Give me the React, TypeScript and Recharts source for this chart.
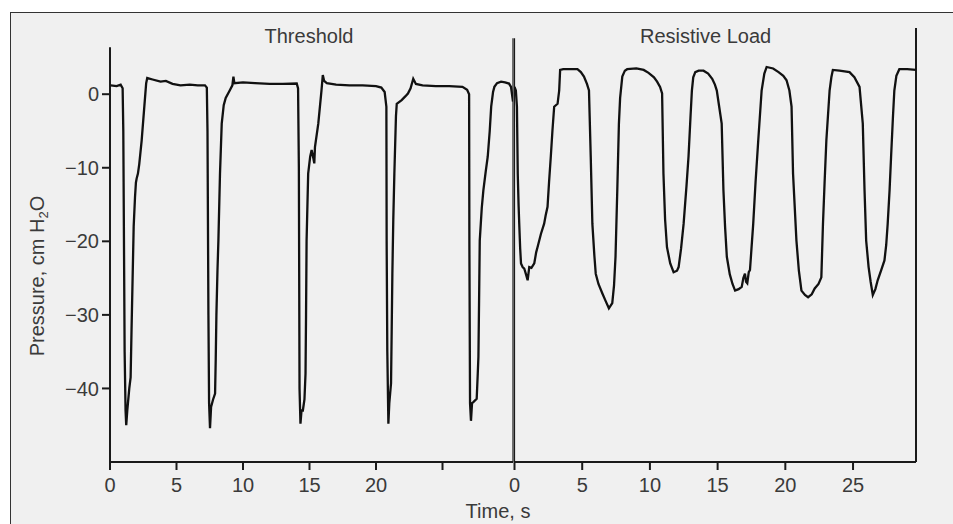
import { LineChart, Line, XAxis, YAxis, ReferenceLine } from "recharts";

// Threshold trace (time in s, pressure in cm H2O)
const thresholdTime = [
  0.05, 0.5, 0.8, 0.95, 1.0, 1.1, 1.17, 1.22, 1.3, 1.35, 1.45, 1.55, 1.62, 1.7, 1.78, 1.88, 1.95, 2.0, 2.1, 2.2,
  2.38, 2.58, 2.72, 2.8, 3.2, 3.8, 4.2, 4.7, 5.3, 6.0, 6.6, 7.14, 7.28, 7.33, 7.4, 7.45, 7.52, 7.6, 7.75, 7.9,
  7.95, 8.0, 8.08, 8.15, 8.27, 8.4, 8.55, 8.7, 9.0, 9.2, 9.28, 9.35, 10.0, 10.9, 12.0, 13.0, 14.04, 14.14, 14.2, 14.25,
  14.32, 14.4, 14.5, 14.62, 14.7, 14.74, 14.78, 14.9, 15.05, 15.16, 15.3, 15.36, 15.41, 15.66, 15.9, 16.0, 16.1, 16.3, 17.0, 18.0,
  19.0, 20.0, 20.4, 20.65, 20.78, 20.8, 20.85, 20.93, 21.0, 21.13, 21.18, 21.23, 21.3, 21.38, 21.5, 21.56, 21.93, 22.2, 22.4, 22.6,
  22.8, 23.0, 23.5, 24.5, 25.5, 26.5, 26.85, 27.0, 27.02, 27.07, 27.14, 27.22, 27.3, 27.57, 27.65, 27.7, 27.75, 27.8, 27.95, 28.07,
  28.25, 28.4, 28.55, 28.66, 28.8, 28.9, 29.1, 29.4, 29.7, 30.0, 30.15, 30.3,
];
const thresholdPressure = [
  1.2, 1.1, 1.3, 0.8, -5, -35, -43, -45, -43, -42, -40, -38.5, -32, -25, -18, -14, -12, -11.5, -10.8, -9.5,
  -6.3, -1.7, 1.5, 2.2, 2.0, 1.7, 1.8, 1.4, 1.2, 1.3, 1.2, 1.2, 0.9, -5, -30, -42, -45.4, -42.5, -41.5, -40.7,
  -36, -30, -24, -19.9, -10.8, -4, -1.5, -0.5, 0.5, 1.2, 2.4, 1.5, 1.6, 1.5, 1.4, 1.4, 1.45, 0.8, -10, -40,
  -44.8, -43, -43, -41.5, -38, -30, -20, -10.8, -8.5, -7.6, -8.8, -9.4, -7.2, -4, 0.5, 2.6, 1.8, 1.5, 1.3, 1.2,
  1.2, 1.1, 0.9, 0.3, -1.7, -20, -35, -44.8, -42, -39.3, -32, -24.4, -17, -10.8, -3, -1.3, -0.8, -0.3, 0.1, 0.8,
  2.1, 1.4, 1.2, 1.1, 1.1, 1.0, 0.6, 0.0, -20, -42, -44.4, -42, -41.9, -41.4, -38, -35.7, -28, -19.9, -15.5, -13.1,
  -10.5, -8.5, -5, -1.7, 0.3, 1.0, 1.5, 1.7, 1.6, 1.45, 1.0, -1.0,
];

// Resistive load trace
const resistiveTime = [
  0.0, 0.1, 0.18, 0.24, 0.3, 0.35, 0.42, 0.48, 0.6, 0.72, 0.85, 0.97, 1.09, 1.25, 1.46, 1.6, 1.7, 1.95, 2.19, 2.3,
  2.44, 2.55, 2.68, 2.8, 2.93, 3.18, 3.3, 3.37, 3.6, 4.65, 4.9, 5.13, 5.35, 5.5, 5.63, 5.75, 5.9, 6.0, 6.2, 6.49,
  6.75, 6.97, 7.22, 7.35, 7.46, 7.59, 7.71, 7.8, 7.96, 8.15, 8.32, 9.0, 9.54, 9.9, 10.3, 10.53, 10.75, 10.9, 11.0, 11.12,
  11.26, 11.5, 11.75, 12.0, 12.12, 12.3, 12.49, 12.7, 12.85, 13.0, 13.1, 13.2, 13.35, 13.6, 13.96, 14.3, 14.6, 14.8, 14.94, 15.1,
  15.3, 15.43, 15.55, 15.68, 15.9, 16.1, 16.29, 16.55, 16.78, 16.9, 17.02, 17.1, 17.19, 17.3, 17.39, 17.5, 17.63, 17.8, 18.0, 18.25,
  18.45, 18.62, 19.1, 19.5, 19.85, 20.09, 20.3, 20.46, 20.57, 20.82, 21.0, 21.19, 21.45, 21.68, 21.95, 22.17, 22.45, 22.66, 22.78, 22.9,
  23.03, 23.27, 23.4, 23.51, 24.0, 24.74, 25.1, 25.48, 25.72, 25.85, 25.97, 26.15, 26.3, 26.46, 26.65, 26.82, 27.1, 27.32, 27.45, 27.56,
  27.7, 27.81, 27.95, 28.05, 28.2, 28.42, 29.0, 29.65,
];
const resistivePressure = [
  1.0, 0.5, -1.7, -10.8, -15, -17.6, -21, -23, -23.5, -23.7, -24.5, -25.3, -23.5, -23.6, -23, -21.5, -20.8, -19, -17.6, -16.5,
  -15.3, -12, -8.5, -5, -1.7, -1.3, 0.5, 3.3, 3.4, 3.4, 3.0, 2.4, 1.4, 0.5, -8.5, -17.6, -22, -24.4, -25.8, -27.1,
  -28.2, -29.1, -28.4, -26, -22.1, -13.1, -4, -0.5, 2.4, 3.2, 3.4, 3.5, 3.3, 2.9, 2.3, 1.7, 1.0, 0.1, -10.8, -17,
  -20.8, -23, -24.2, -24, -23.5, -21, -17.6, -12.5, -8.5, -3, 0.5, 2.3, 3.0, 3.2, 3.2, 2.8, 2.1, 1.3, 0.5, -1.5,
  -4, -13.1, -18, -22.1, -24.5, -25.8, -26.7, -26.5, -26.2, -25, -24.4, -25.5, -25.7, -24.2, -23.9, -21, -17.6, -12, -6.3, 0.5,
  2.8, 3.7, 3.5, 3.0, 2.5, 1.9, 0.5, -1.7, -10.8, -19.9, -24, -26.7, -27.3, -27.6, -27.2, -26.4, -25.8, -24.9, -17.6, -12,
  -6.3, 0.5, 2.3, 3.3, 3.2, 3.0, 2.3, 1.0, -4, -13.1, -19.9, -23.5, -25.5, -27.3, -26.5, -25.3, -23.8, -22.6, -20.5, -17.6,
  -13, -8.5, -3, 0.5, 2.5, 3.4, 3.4, 3.3,
];

const pressureTicks = [0, -10, -20, -30, -40];
const thresholdTicks = [0, 5, 10, 15, 20, 25];
const thresholdLabels = ["0", "5", "10", "15", "20", ""];
const resistiveTicks = [0, 5, 10, 15, 20, 25];

const thresholdEnd = 30.3;
const resistiveEnd = 29.65;
const pressureMin = -50;
const pressureMax = 9;
const yAxisTop = 6.4;
const dividerTop = 7.6;

const thresholdData = thresholdTime.map((t, i) => ({ t, p: thresholdPressure[i] }));
const resistiveData = resistiveTime.map((t, i) => ({ t, p: resistivePressure[i] }));

const ink = "#1a1a1a";
const textColor = "#3a3a3a";
const font = "'Liberation Sans', Arial, Helvetica, sans-serif";
const tickStyle = { fill: textColor, fontSize: 20, fontFamily: font };
const minus = (v: number) => (v < 0 ? `\u2212${-v}` : `${v}`);

export default function App() {
  return (
    <div
      style={{
        position: "absolute",
        left: 0,
        top: 0,
        width: 953,
        height: 524,
        overflow: "hidden",
        background: "#fff",
      }}
    >
      <div
        style={{
          position: "absolute",
          left: 10,
          top: 12,
          width: 960,
          height: 540,
          background: "#f0f0f0",
          borderLeft: "1.5px solid #333",
          borderTop: "1.5px solid #333",
        }}
      />

      <div style={{ position: "absolute", left: 0, top: 0 }}>
        <LineChart
          width={520}
          height={500}
          data={thresholdData}
          margin={{ top: 28, right: 7, bottom: 0, left: 0 }}
        >
          <XAxis
            type="number"
            dataKey="t"
            domain={[0, thresholdEnd]}
            ticks={thresholdTicks}
            interval={0}
            tickFormatter={(v: number) => thresholdLabels[thresholdTicks.indexOf(v)] ?? ""}
            height={38}
            axisLine={{ stroke: ink, strokeWidth: 2 }}
            tickLine={{ stroke: ink, strokeWidth: 2 }}
            tickSize={8}
            tickMargin={8}
            tick={tickStyle}
            allowDataOverflow
          />
          <YAxis
            type="number"
            domain={[pressureMin, pressureMax]}
            ticks={pressureTicks}
            interval={0}
            width={110}
            axisLine={false}
            tickLine={{ stroke: ink, strokeWidth: 2 }}
            tickSize={8}
            tickMargin={3}
            tickFormatter={minus}
            tick={tickStyle}
            allowDataOverflow
          />
          <ReferenceLine
            segment={[
              { x: 0, y: pressureMin },
              { x: 0, y: yAxisTop },
            ]}
            stroke={ink}
            strokeWidth={2}
          />
          <ReferenceLine
            segment={[
              { x: thresholdEnd, y: pressureMin },
              { x: thresholdEnd, y: dividerTop },
            ]}
            stroke={ink}
            strokeWidth={1.2}
          />
          <Line
            type="linear"
            dataKey="p"
            stroke="#111"
            strokeWidth={2.3}
            dot={false}
            isAnimationActive={false}
          />
        </LineChart>
      </div>

      <div style={{ position: "absolute", left: 0, top: 0 }}>
        <LineChart
          width={930}
          height={500}
          data={resistiveData}
          margin={{ top: 28, right: 14, bottom: 0, left: 514.5 }}
        >
          <XAxis
            type="number"
            dataKey="t"
            domain={[0, resistiveEnd]}
            ticks={resistiveTicks}
            interval={0}
            height={38}
            axisLine={{ stroke: ink, strokeWidth: 2 }}
            tickLine={{ stroke: ink, strokeWidth: 2 }}
            tickSize={8}
            tickMargin={8}
            tick={tickStyle}
            allowDataOverflow
          />
          <YAxis type="number" domain={[pressureMin, pressureMax]} hide allowDataOverflow />
          <ReferenceLine
            segment={[
              { x: 0, y: pressureMin },
              { x: 0, y: dividerTop },
            ]}
            stroke={ink}
            strokeWidth={1.2}
          />
          <ReferenceLine
            segment={[
              { x: resistiveEnd, y: pressureMin },
              { x: resistiveEnd, y: pressureMax },
            ]}
            stroke={ink}
            strokeWidth={2}
          />
          <Line
            type="linear"
            dataKey="p"
            stroke="#111"
            strokeWidth={2.3}
            dot={false}
            isAnimationActive={false}
          />
        </LineChart>
      </div>

      <svg
        width={953}
        height={524}
        style={{ position: "absolute", left: 0, top: 0, pointerEvents: "none" }}
        fontFamily={font}
        fill={textColor}
        fontSize={20}
      >
        <text x={309} y={43} textAnchor="middle">
          Threshold
        </text>
        <text x={640} y={43}>
          Resistive Load
        </text>
        <text x={498} y={518} textAnchor="middle">
          Time, s
        </text>
        <text transform="translate(44,276) rotate(-90)" textAnchor="middle">
          Pressure, cm H<tspan fontSize={13} dy={4}>2</tspan>
          <tspan dy={-4}>O</tspan>
        </text>
      </svg>
    </div>
  );
}
